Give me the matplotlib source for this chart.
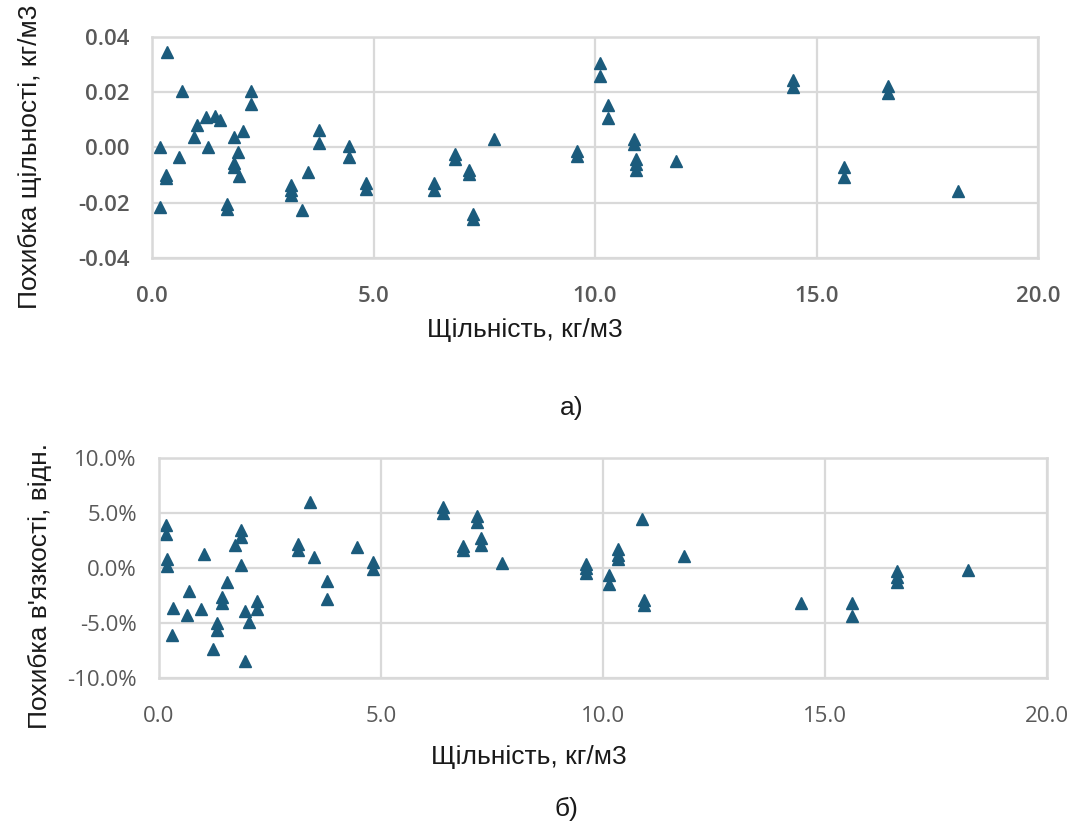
#! /usr/bin/env python3
import matplotlib
matplotlib.use("Agg")
import matplotlib.pyplot as plt
from matplotlib.ticker import FuncFormatter

# data: density (kg/m3) and density error (kg/m3)
dens_x = [0.33, 0.67, 0.18, 0.62, 0.31, 0.31, 0.18, 1.01, 0.95, 1.22, 1.42, 1.53,
          1.27, 1.84, 2.05, 1.93, 1.85, 1.85, 1.96, 1.70, 1.70, 2.23, 2.23,
          3.14, 3.14, 3.14, 3.38, 3.51, 3.77, 3.77, 4.45, 4.45, 4.82, 4.82,
          6.37, 6.37, 6.84, 6.84, 7.15, 7.15, 7.25, 7.25, 7.73, 9.60, 9.60,
          10.11, 10.11, 10.30, 10.30, 10.87, 10.87, 10.93, 10.93, 10.93, 11.83,
          14.46, 14.46, 15.63, 15.63, 16.62, 16.62, 18.19]
dens_err = [0.0344, 0.0203, 0.0000, -0.0035, -0.0100, -0.0112, -0.0217, 0.0082, 0.0038,
            0.0110, 0.0115, 0.0098, 0.0000, 0.0038, 0.0058, -0.0015, -0.0055, -0.0070,
            -0.0102, -0.0205, -0.0222, 0.0203, 0.0158,
            -0.0135, -0.0155, -0.0172, -0.0225, -0.0090, 0.0064, 0.0016, 0.0004, -0.0035,
            -0.0130, -0.0150, -0.0130, -0.0155, -0.0022, -0.0042, -0.0080, -0.0095,
            -0.0242, -0.0260, 0.0030, -0.0012, -0.0030, 0.0305, 0.0257, 0.0155, 0.0106,
            0.0030, 0.0012, -0.0040, -0.0060, -0.0080, -0.0050, 0.0245, 0.0218,
            -0.0070, -0.0108, 0.0222, 0.0198, -0.0159]

# data: density (kg/m3) and viscosity relative error (%)
visc_x = [0.16, 0.16, 0.19, 0.19, 0.32, 0.29, 0.62, 0.68, 0.94, 1.02, 1.30, 1.30,
          1.21, 1.43, 1.43, 1.54, 1.71, 1.85, 1.85, 1.85, 1.94, 2.03, 1.94, 2.21, 2.21,
          3.14, 3.14, 3.39, 3.50, 3.78, 3.78, 4.47, 4.81, 4.81,
          6.39, 6.39, 6.84, 6.84, 7.16, 7.16, 7.25, 7.25, 7.73, 9.61, 9.61, 9.61,
          10.14, 10.14, 10.33, 10.33, 10.33, 10.89, 10.92, 10.92, 11.83,
          14.47, 15.62, 15.62, 16.63, 16.63, 16.63, 18.23]
visc_err = [3.9, 3.1, 0.8, 0.2, -3.6, -6.1, -4.3, -2.1, -3.7, 1.3, -5.0, -5.6,
            -7.3, -2.6, -3.2, -1.3, 2.1, 3.4, 2.8, 0.3, -3.9, -4.9, -8.4, -3.0, -3.7,
            2.2, 1.6, 6.0, 1.0, -1.2, -2.8, 1.9, 0.5, -0.1,
            5.5, 5.0, 2.0, 1.6, 4.7, 4.2, 2.7, 2.1, 0.45, 0.4, 0.0, -0.5,
            -0.6, -1.5, 1.7, 1.2, 0.8, 4.4, -2.9, -3.4, 1.05,
            -3.2, -3.2, -4.4, -0.3, -0.8, -1.3, -0.15]

x_label = "Щільність, кг/м3"
y_label_top = "Похибка щільності, кг/м3"
y_label_bot = "Похибка в'язкості, відн."

marker_color = "#1b5b7c"
grid_color = "#d9d9d9"
tick_color = "#595959"
text_color = "#1a1a1a"

fig = plt.figure(figsize=(10.75, 8.25), dpi=100)
ax1 = fig.add_axes([0.1414, 0.6873, 0.8242, 0.2679])
ax2 = fig.add_axes([0.1479, 0.1778, 0.8260, 0.2676])


def style_axes(ax, weight):
    ax.set_xlim(0, 20)
    ax.set_xticks([0, 5, 10, 15, 20])
    ax.xaxis.set_major_formatter(FuncFormatter(lambda v, p: f"{v:.1f}"))
    ax.grid(True, color=grid_color, lw=1.6)
    ax.set_axisbelow(True)
    for s in ax.spines.values():
        s.set_color(grid_color)
        s.set_linewidth(1.8)
    ax.tick_params(length=0, labelsize=16, labelcolor=tick_color)
    ax.tick_params(axis="x", pad=20)
    ax.tick_params(axis="y", pad=16)
    for lab in ax.get_xticklabels() + ax.get_yticklabels():
        lab.set_fontfamily("Open Sans")
        lab.set_fontweight(weight)


label_font = dict(fontsize=19, color=text_color, family="Liberation Sans")

# top chart: density error
ax1.plot(dens_x, dens_err, "^", color=marker_color, ms=8, ls="none")
ax1.set_ylim(-0.04, 0.04)
ax1.set_yticks([-0.04, -0.02, 0.0, 0.02, 0.04])
ax1.yaxis.set_major_formatter(FuncFormatter(lambda v, p: f"{v:.2f}"))
style_axes(ax1, "semibold")
ax1.set_xlabel(x_label, va="center", **label_font)
ax1.set_ylabel(y_label_top, va="center", **label_font)
ax1.xaxis.set_label_coords(0.421, -0.326)
ax1.yaxis.set_label_coords(-0.138, 0.457)

# bottom chart: viscosity error
ax2.plot(visc_x, visc_err, "^", color=marker_color, ms=8, ls="none")
ax2.set_ylim(-10, 10)
ax2.set_yticks([-10, -5, 0, 5, 10])
ax2.yaxis.set_major_formatter(FuncFormatter(lambda v, p: f"{v:.1f}%"))
style_axes(ax2, "normal")
ax2.set_xlabel(x_label, va="center", **label_font)
ax2.set_ylabel(y_label_bot, va="center", **label_font)
ax2.xaxis.set_label_coords(0.417, -0.356)
ax2.yaxis.set_label_coords(-0.134, 0.42)

fig.text(0.532, 0.505, "а)", fontsize=19, color=text_color, family="Liberation Sans",
         ha="center", va="center")
fig.text(0.527, 0.02, "б)", fontsize=19, color=text_color, family="Liberation Sans",
         ha="center", va="center")

fig.savefig("out.png", dpi=100, facecolor="white")
